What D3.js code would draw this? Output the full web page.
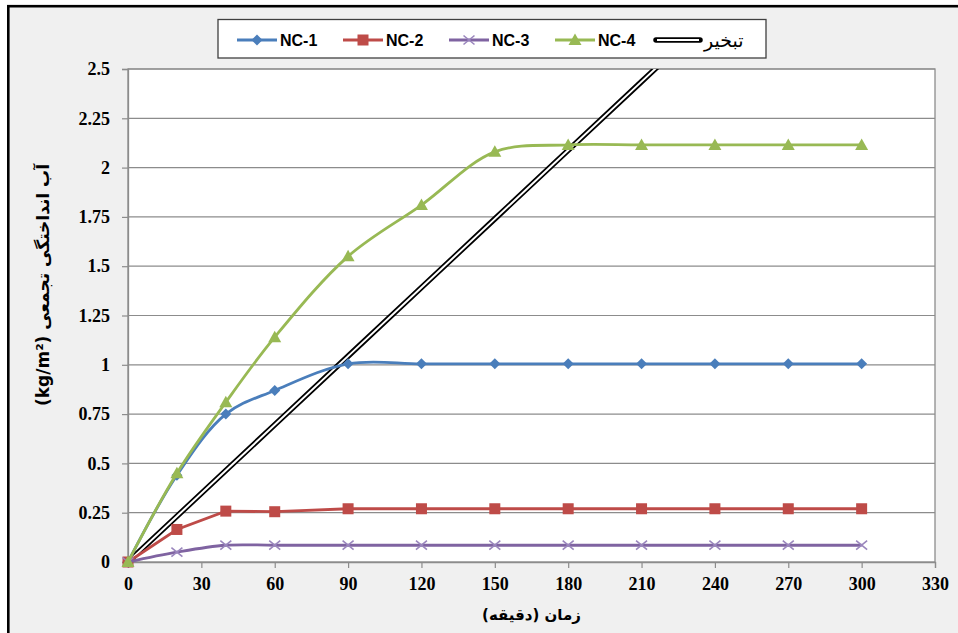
<!DOCTYPE html>
<html><head><meta charset="utf-8">
<script src="https://cdn.jsdelivr.net/npm/d3@7"></script>
<style>
html,body{margin:0;padding:0;background:#fff;}
svg{display:block;}
</style></head>
<body>
<svg id="c" width="958" height="633"></svg>
<script>
const times = [0,20,40,60,90,120,150,180,210,240,270,300];
const nc1 = [0,0.44,0.75,0.87,1.005,1.005,1.005,1.005,1.005,1.005,1.005,1.005];
const nc2 = [0,0.165,0.258,0.255,0.27,0.27,0.27,0.27,0.27,0.27,0.27,0.27];
const nc3 = [0,0.05,0.085,0.085,0.085,0.085,0.085,0.085,0.085,0.085,0.085,0.085];
const nc4 = [0,0.45,0.81,1.14,1.55,1.81,2.08,2.115,2.115,2.115,2.115,2.115];
const evap = [0,0.232,0.464,0.696,1.044,1.392,1.74,2.088,2.436,2.784,3.132,3.48];
const xTicks = [0,30,60,90,120,150,180,210,240,270,300,330];
const yTicks = [0,0.25,0.5,0.75,1,1.25,1.5,1.75,2,2.25,2.5];
const seriesNames = ["NC-1","NC-2","NC-3","NC-4","تبخیر"];
const xTitle = "زمان (دقیقه)";
const yTitle = "آب انداختگی تجمعی (kg/m²)";

const svg = d3.select("#c");
svg.append("rect").attr("x",8.3).attr("y",6.2).attr("width",1000).attr("height",700)
  .attr("fill","#f0f0f0").attr("stroke","#000").attr("stroke-width",2.6);

const L=128,R=935,T=69,B=562;
const x = d3.scaleLinear().domain([0,330]).range([L,R]);
const y = d3.scaleLinear().domain([0,2.5]).range([B,T]);

svg.append("rect").attr("x",L).attr("y",T).attr("width",R-L).attr("height",B-T).attr("fill","#fff");
svg.append("g").selectAll("line").data(yTicks.filter(d=>d>0)).join("line")
  .attr("x1",L).attr("x2",R).attr("y1",d=>y(d)).attr("y2",d=>y(d))
  .attr("stroke","#8c8c8c").attr("stroke-width",1.2);
svg.append("rect").attr("x",L).attr("y",T).attr("width",R-L).attr("height",B-T)
  .attr("fill","none").attr("stroke","#8c8c8c").attr("stroke-width",1.3);

const serif = "'Liberation Serif','Times New Roman',serif";
const yAxis = d3.axisLeft(y).tickValues(yTicks).tickSize(6).tickPadding(12).tickFormat(d=>String(d));
const gy = svg.append("g").attr("transform",`translate(${L},0)`).call(yAxis);
const xAxis = d3.axisBottom(x).tickValues(xTicks).tickSize(6).tickPadding(9).tickFormat(d=>String(d));
const gx = svg.append("g").attr("transform",`translate(0,${B})`).call(xAxis);
[gx,gy].forEach(g=>{
  g.attr("font-family",null).attr("font-size",null);
  g.select(".domain").attr("stroke","#8c8c8c").attr("stroke-width",1.3);
  g.selectAll(".tick line").attr("stroke","#8c8c8c").attr("stroke-width",1.2);
  g.selectAll("text").style("font-family",serif).style("font-weight","bold").style("font-size","18px").attr("fill","#000");
});

svg.append("clipPath").attr("id","clip").append("rect").attr("x",L).attr("y",T).attr("width",R-L).attr("height",B-T);

const colors = ["#4A7EBB","#BE4B48","#7F63A1","#98B954"];
const data = [nc1,nc2,nc3,nc4];
const curves = [d3.curveCatmullRom.alpha(0.5),d3.curveLinear,d3.curveCatmullRom.alpha(0.5),d3.curveCatmullRom.alpha(0.5)];

const evLine = d3.line().x((d,i)=>x(times[i])).y(d=>y(d));
const ge = svg.append("g").attr("clip-path","url(#clip)");
ge.append("path").attr("d",evLine(evap)).attr("fill","none").attr("stroke","#000").attr("stroke-width",5.5);
ge.append("path").attr("d",evLine(evap)).attr("fill","none").attr("stroke","#fff").attr("stroke-width",2);

function marker(g, k, cx, cy, c){
  if(k===0){
    g.append("path").attr("d",`M${cx},${cy-5.5}L${cx+5.5},${cy}L${cx},${cy+5.5}L${cx-5.5},${cy}Z`).attr("fill",c);
  } else if(k===1){
    g.append("rect").attr("x",cx-5.5).attr("y",cy-5.5).attr("width",11).attr("height",11).attr("fill",c);
  } else if(k===2){
    g.append("path").attr("d",`M${cx-5.5},${cy-4.5}L${cx+5.5},${cy+4.5}M${cx-5.5},${cy+4.5}L${cx+5.5},${cy-4.5}`).attr("stroke","#9a86bd").attr("stroke-width",1.6);
  } else {
    g.append("path").attr("d",`M${cx},${cy-6.5}L${cx+6.5},${cy+5}L${cx-6.5},${cy+5}Z`).attr("fill",c);
  }
}

data.forEach((vals,k)=>{
  const line = d3.line().x((d,i)=>x(times[i])).y(d=>y(d)).curve(curves[k]);
  svg.append("path").attr("d",line(vals)).attr("fill","none").attr("stroke",colors[k]).attr("stroke-width",2.8);
  const g = svg.append("g");
  vals.forEach((v,i)=>marker(g,k,x(times[i]),y(v),colors[k]));
});

svg.append("text").attr("x",(L+R)/2).attr("y",620).attr("text-anchor","middle")
  .style("font-family","'DejaVu Sans',sans-serif").style("font-weight","bold").style("font-size","15px")
  .attr("direction","rtl").text(xTitle);
svg.append("text").attr("transform","translate(49,285) rotate(-90)").attr("text-anchor","middle")
  .style("font-family","'DejaVu Sans',sans-serif").style("font-weight","bold").style("font-size","17px")
  .attr("direction","rtl").attr("unicode-bidi","embed").text(yTitle);

svg.append("rect").attr("x",218).attr("y",19.5).attr("width",548).attr("height",38.5)
  .attr("fill","#fff").attr("stroke","#404040").attr("stroke-width",1.3);
const legX = [237,343,449,555,656];
const sans = "'Liberation Sans',Arial,sans-serif";
seriesNames.forEach((name,k)=>{
  const lx = legX[k], ly = 40;
  const g = svg.append("g");
  if(k<4){
    g.append("line").attr("x1",lx).attr("x2",lx+40).attr("y1",ly).attr("y2",ly).attr("stroke",colors[k]).attr("stroke-width",2.8);
    marker(g,k,lx+20,ly,colors[k]);
    g.append("text").attr("x",lx+43).attr("y",ly+6).style("font-family",sans).style("font-weight","bold").style("font-size","16px").text(name);
  } else {
    g.append("line").attr("x1",lx).attr("x2",lx+44).attr("y1",ly).attr("y2",ly).attr("stroke","#000").attr("stroke-width",5.5).attr("stroke-linecap","round");
    g.append("line").attr("x1",lx+1).attr("x2",lx+43).attr("y1",ly).attr("y2",ly).attr("stroke","#fff").attr("stroke-width",2);
    g.append("text").attr("x",lx+48).attr("y",ly+7).style("font-family","'DejaVu Sans',sans-serif").style("font-size","19px").text(name);
  }
});
</script>
</body></html>
